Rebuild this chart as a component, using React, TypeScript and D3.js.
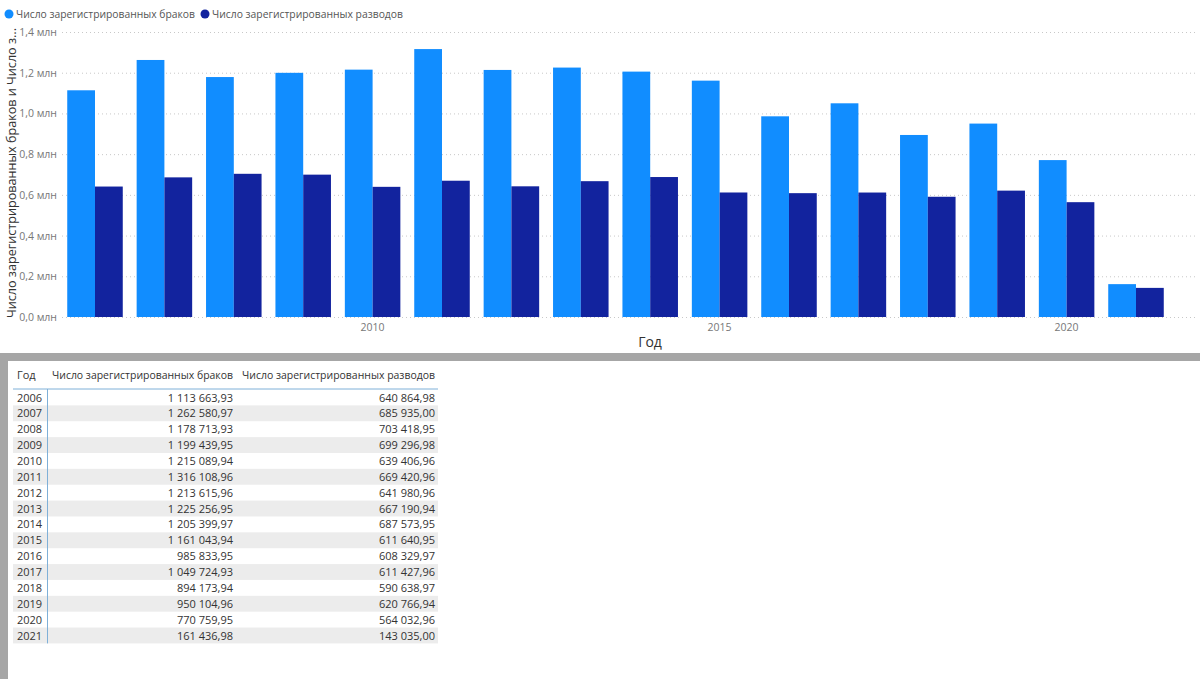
import React from "react";
import * as d3 from "d3";

const years = [2006, 2007, 2008, 2009, 2010, 2011, 2012, 2013, 2014, 2015, 2016, 2017, 2018, 2019, 2020, 2021];
const marriages = [1113663.93, 1262580.97, 1178713.93, 1199439.95, 1215089.94, 1316108.96, 1213615.96, 1225256.95, 1205399.97, 1161043.94, 985833.95, 1049724.93, 894173.94, 950104.96, 770759.95, 161436.98];
const divorces = [640864.98, 685935.0, 703418.95, 699296.98, 639406.96, 669420.96, 641980.96, 667190.94, 687573.95, 611640.95, 608329.97, 611427.96, 590638.97, 620766.94, 564032.96, 143035.0];
const seriesNames = ["Число зарегистрированных браков", "Число зарегистрированных разводов"];
const seriesColors = ["#118DFF", "#12239E"];
const yTicks = [0, 200000, 400000, 600000, 800000, 1000000, 1200000, 1400000];
const xTickYears = [2010, 2015, 2020];
const yTitle = "Число зарегистрированных браков и Число з...";
const xTitle = "Год";
const tableHeaders = ["Год", "Число зарегистрированных браков", "Число зарегистрированных разводов"];

const FONT = "'Segoe UI', 'Open Sans', 'Noto Sans', sans-serif";

export default function App() {
  const W = 1200, H = 679;
  const y = d3.scaleLinear().domain([0, 1400000]).range([317, 32]);
  const x0 = d3.scaleBand<number>().domain(years).range([60.3, 1170.7]).paddingInner(0.2).paddingOuter(0.1);
  const x1 = d3.scaleBand<number>().domain([0, 1]).range([0, x0.bandwidth()]).padding(0);
  const series = [marriages, divorces];
  const ru = d3.formatLocale({ decimal: ",", thousands: " ", grouping: [3], currency: ["", ""] });
  const fmt = ru.format(",.2f");
  const yLabel = (v: number) => (v / 1e6).toFixed(1).replace(".", ",") + " млн";

  const rowTop = 389.5;
  const rowH = 15.87;
  const row = d3.scaleLinear().domain([0, 1]).range([rowTop, rowTop + rowH]);

  return (
    <svg width={W} height={H} style={{ position: "absolute", left: 0, top: 0, background: "#fff" }} fontFamily={FONT}>
      <rect x={0} y={0} width={W} height={H} fill="#fff" />
      {/* legend */}
      <g>
        <circle cx={9} cy={14} r={4.5} fill={seriesColors[0]} />
        <text x={16} y={18} fontSize={11.5} fill="#555" textLength={179} lengthAdjust="spacingAndGlyphs">{seriesNames[0]}</text>
        <circle cx={205} cy={14} r={4.5} fill={seriesColors[1]} />
        <text x={212} y={18} fontSize={11.5} fill="#555" textLength={191} lengthAdjust="spacingAndGlyphs">{seriesNames[1]}</text>
      </g>
      {/* gridlines */}
      {yTicks.map((t) => (
        <line key={t} x1={62} x2={1196} y1={y(t) + 0.5} y2={y(t) + 0.5} stroke="#c8c8c8" strokeDasharray="1,3" />
      ))}
      {yTicks.map((t) => (
        <text key={"l" + t} x={57} y={y(t) + 4} fontSize={10.5} fill="#777" textAnchor="end">{yLabel(t)}</text>
      ))}
      {/* bars */}
      {years.map((yr, i) => (
        <g key={yr} transform={`translate(${x0(yr)},0)`}>
          {series.map((s, k) => (
            <rect key={k} x={x1(k)} width={x1.bandwidth()} y={y(s[i])} height={y(0) - y(s[i])} fill={seriesColors[k]} />
          ))}
        </g>
      ))}
      {xTickYears.map((yr) => (
        <text key={yr} x={(x0(yr) || 0) + x0.bandwidth() / 2} y={331} fontSize={10.5} fill="#777" textAnchor="middle">{yr}</text>
      ))}
      <text x={650} y={347} fontSize={14} fill="#333" textAnchor="middle">{xTitle}</text>
      <text transform={`translate(16,173) rotate(-90)`} fontSize={12.5} fill="#333" textAnchor="middle" textLength={290} lengthAdjust="spacingAndGlyphs">{yTitle}</text>
      {/* separator */}
      <rect x={0} y={353} width={W} height={8} fill="#a6a6a6" />
      <rect x={0} y={361} width={8} height={H - 361} fill="#a6a6a6" />
      {/* table */}
      <g fontSize={11} fill="#333">
        <text x={17} y={379}>{tableHeaders[0]}</text>
        <text x={52} y={379} textLength={181} lengthAdjust="spacingAndGlyphs">{tableHeaders[1]}</text>
        <text x={242} y={379} textLength={193} lengthAdjust="spacingAndGlyphs">{tableHeaders[2]}</text>
        {years.map((yr, i) => (
          <g key={yr}>
            {i % 2 === 1 && <rect x={13} y={row(i)} width={425} height={rowH} fill="#ececec" />}
            <text x={17} y={row(i) + 12}>{yr}</text>
            <text x={233} y={row(i) + 12} textAnchor="end">{fmt(marriages[i])}</text>
            <text x={435} y={row(i) + 12} textAnchor="end">{fmt(divorces[i])}</text>
          </g>
        ))}
        <line x1={13} x2={438} y1={389} y2={389} stroke="#7fb0d8" strokeWidth={1} />
        <line x1={47.5} x2={47.5} y1={389} y2={row(years.length)} stroke="#7fb0d8" strokeWidth={1} />
      </g>
    </svg>
  );
}
